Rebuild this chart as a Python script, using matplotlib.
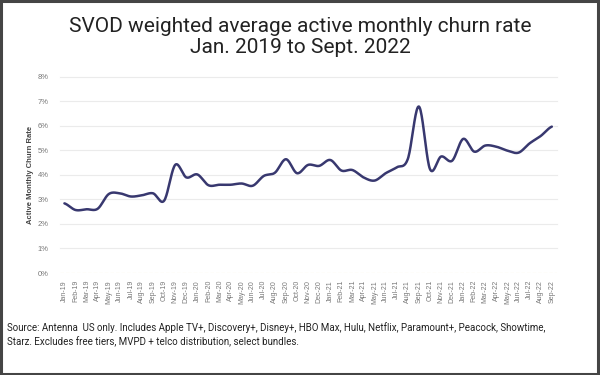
import numpy as np
import matplotlib.pyplot as plt
from matplotlib.patches import Rectangle
from matplotlib.ticker import FuncFormatter

months = ["Jan-19", "Feb-19", "Mar-19", "Apr-19", "May-19", "Jun-19", "Jul-19", "Aug-19",
          "Sep-19", "Oct-19", "Nov-19", "Dec-19",
          "Jan-20", "Feb-20", "Mar-20", "Apr-20", "May-20", "Jun-20", "Jul-20", "Aug-20",
          "Sep-20", "Oct-20", "Nov-20", "Dec-20",
          "Jan-21", "Feb-21", "Mar-21", "Apr-21", "May-21", "Jun-21", "Jul-21", "Aug-21",
          "Sep-21", "Oct-21", "Nov-21", "Dec-21",
          "Jan-22", "Feb-22", "Mar-22", "Apr-22", "May-22", "Jun-22", "Jul-22", "Aug-22",
          "Sep-22"]
churn = [2.84, 2.57, 2.60, 2.62, 3.22, 3.25, 3.12, 3.17, 3.25, 2.95, 4.41, 3.90,
         4.02, 3.58, 3.60, 3.60, 3.65, 3.56, 3.96, 4.09, 4.64, 4.07, 4.41, 4.37,
         4.61, 4.18, 4.20, 3.90, 3.77, 4.07, 4.31, 4.65, 6.79, 4.24, 4.75, 4.58,
         5.47, 4.95, 5.20, 5.15, 4.99, 4.91, 5.29, 5.59, 5.97]
title = "SVOD weighted average active monthly churn rate\nJan. 2019 to Sept. 2022"
source = ("Source: Antenna  US only. Includes Apple TV+, Discovery+, Disney+, HBO Max, Hulu, "
          "Netflix, Paramount+, Peacock, Showtime,\n"
          "Starz. Excludes free tiers, MVPD + telco distribution, select bundles.")


def catmull_rom(y, steps=20):
    # smooth curve through the points, like a spreadsheet "smoothed line"
    y = np.asarray(y, dtype=float)
    p = np.concatenate([[y[0]], y, [y[-1]]])
    xs, ys = [], []
    for i in range(len(y) - 1):
        p0, p1, p2, p3 = p[i], p[i + 1], p[i + 2], p[i + 3]
        t = np.linspace(0, 1, steps, endpoint=False)
        ys.append(0.5 * (2 * p1 + (-p0 + p2) * t + (2 * p0 - 5 * p1 + 4 * p2 - p3) * t ** 2
                         + (-p0 + 3 * p1 - 3 * p2 + p3) * t ** 3))
        xs.append(i + t)
    xs.append([len(y) - 1])
    ys.append([y[-1]])
    return np.concatenate(xs), np.concatenate(ys)


fig = plt.figure(figsize=(6, 3.75), dpi=100)
ax = fig.add_axes([0.1, 0.272, 0.828, 0.523])

x = np.arange(len(months))
sx, sy = catmull_rom(churn)
ax.plot(sx, sy, color="#38386f", lw=1.8, solid_capstyle="round", zorder=3)

ax.set_xlim(-0.4, len(months) - 1 + 0.45)
ax.set_ylim(0, 8)
ax.set_yticks(range(0, 9))
ax.yaxis.set_major_formatter(FuncFormatter(lambda v, p: f"{int(v)}%"))
ax.set_xticks(x)
ax.set_xticklabels(months, rotation=90, fontsize=5, color="#777777", family="Liberation Sans")
for lab in ax.get_yticklabels():
    lab.set_fontsize(5.5)
    lab.set_color("#777777")
    lab.set_family("Liberation Sans")
ax.tick_params(length=0, pad=5)
ax.tick_params(axis="y", pad=8)

for v in range(1, 9):
    ax.axhline(v, color="#ebebeb", lw=0.8, zorder=1, clip_on=False)
ax.axhline(0, color="#f3e3a6", lw=0.8, ls=(0, (3, 2)), zorder=2)
for s in ax.spines.values():
    s.set_visible(False)

ax.set_ylabel("Active Monthly Churn Rate", fontsize=5.5, fontweight="bold",
              color="#444444", family="Liberation Sans", labelpad=3)

fig.text(0.5, 0.955, title, ha="center", va="top", fontsize=15, family="Roboto",
         color="#222222", linespacing=1.15)
fig.text(0.012, 0.108, source, ha="left", va="center", fontsize=7, family="Roboto",
         color="#222222", linespacing=1.45)

fig.patches.append(Rectangle((0.0015, 0.002), 0.995, 0.996, transform=fig.transFigure,
                             fill=False, edgecolor="#454545", lw=2.2))

fig.savefig("out.png", dpi=100)
